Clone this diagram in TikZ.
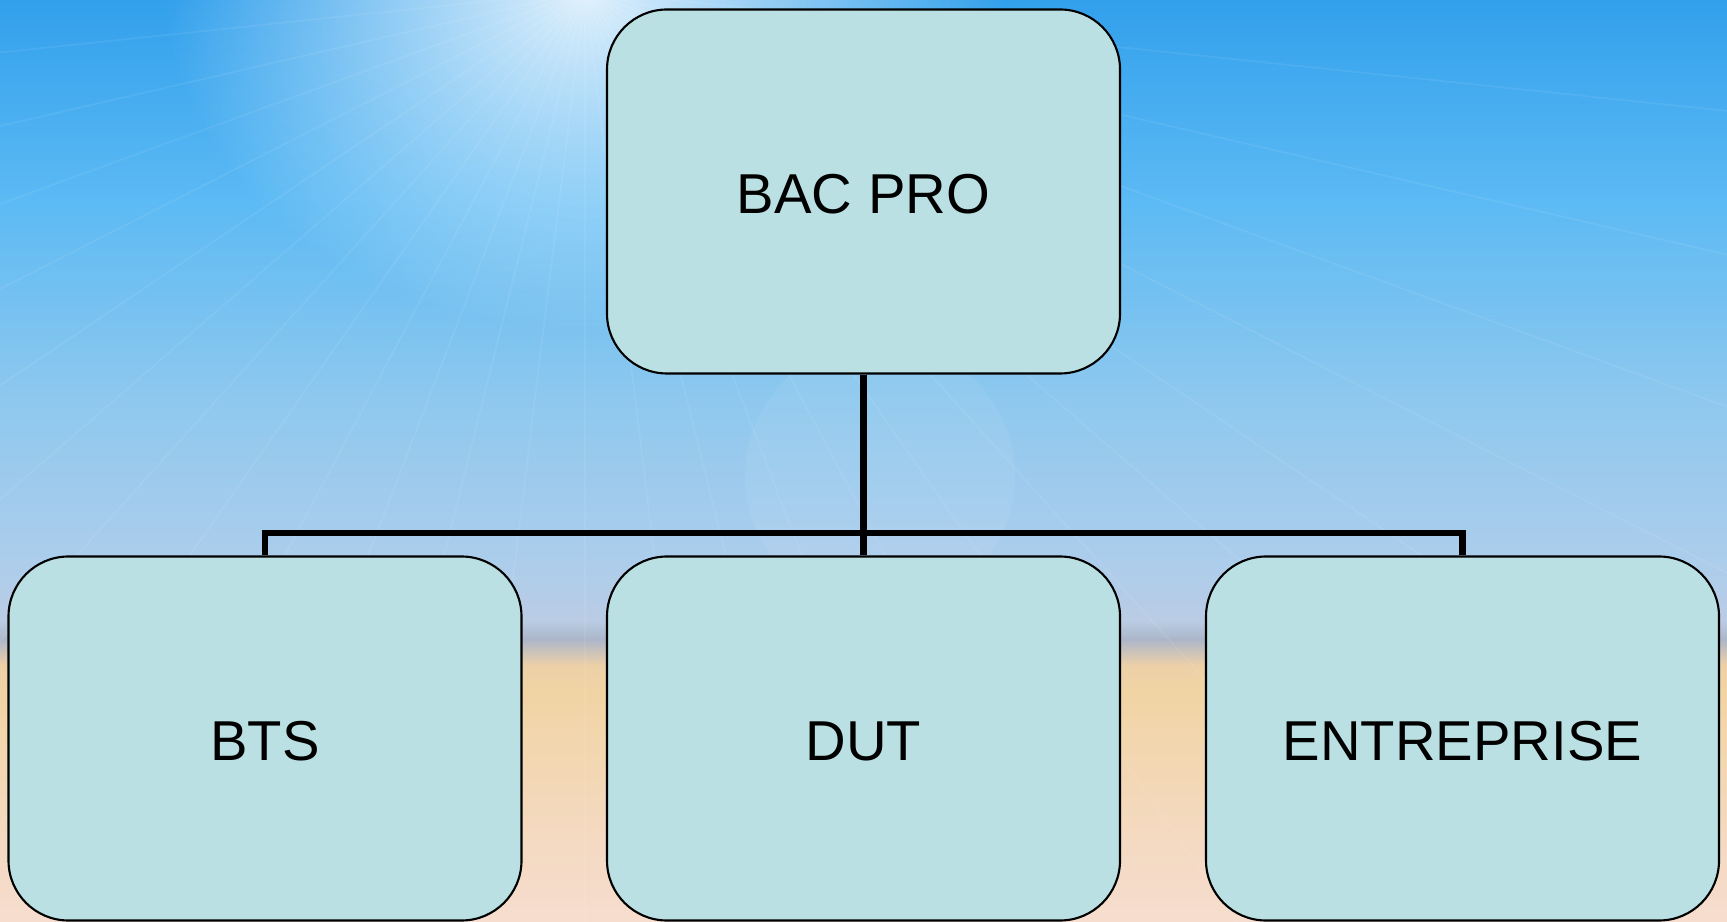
\documentclass[tikz,border=0pt]{standalone}
\usepackage{fontspec}
\setmainfont{Liberation Sans}
\usetikzlibrary{fadings}

\definecolor{boxfill}{RGB}{186,224,227}
\definecolor{deepsky}{RGB}{50,160,236}
\definecolor{midsky}{RGB}{92,186,244}
\definecolor{lowsky}{RGB}{142,200,238}
\definecolor{hazesky}{RGB}{172,205,236}
\definecolor{hazeblue}{RGB}{186,204,228}
\definecolor{horizon}{RGB}{172,182,202}
\definecolor{sandtop}{RGB}{236,208,168}
\definecolor{sand}{RGB}{241,212,164}
\definecolor{sandlow}{RGB}{244,218,194}
\definecolor{peach}{RGB}{246,221,206}

% sky down to the beach, fitted into the middle 50bp of the shading
\pgfdeclareverticalshading{skyline}{100bp}{color(0bp)=(peach); color(25bp)=(peach);
  color(29.3bp)=(sandlow); color(37.5bp)=(sand); color(38.9bp)=(sandtop);
  color(40.3bp)=(horizon); color(41.3bp)=(hazeblue); color(44.6bp)=(hazesky);
  color(53.3bp)=(lowsky); color(64.1bp)=(midsky); color(75bp)=(deepsky); color(100bp)=(deepsky)}

\tikzfading[name=sunglow, inner color=transparent!0, outer color=transparent!100]

\begin{document}
\begin{tikzpicture}[
    stage/.style={shape=rectangle, rounded corners=0.6cm, draw=black, line width=0.6pt,
      fill=boxfill, minimum width=5.13cm, minimum height=3.64cm, text height=0.45cm,
      font=\fontsize{16}{18}\selectfont},
    branch/.style={draw=black, line width=1.9pt},
    ray/.style={draw=white, line width=0.5pt, opacity=0.07}]

    % background
    \shade[shading=skyline] (0,0) rectangle (17.27,9.21);
    \useasboundingbox (0,0) rectangle (17.27,9.21);
    \coordinate (sun) at (5.85,9.3);
    \foreach \a in {186,193,...,356}
        \draw[ray] (sun) -- ++(\a:22);
    \fill[white, path fading=sunglow, opacity=0.85] (sun) ellipse (4.2 and 3.4);
    \fill[white, opacity=0.06] (8.8,4.45) circle (1.35);

    \node[stage] (bac) at (8.635,7.295) {BAC PRO};

    \node[stage] (bts) at (2.65,1.825) {BTS};
    \node[stage] (dut) at (8.635,1.825) {DUT};
    \node[stage] (ent) at (14.625,1.825) {ENTREPRISE};

    \coordinate (split) at (8.635,3.88);

    \draw[branch] (bac.south) -- (split);
    \draw[branch] (split) -| (bts.north);
    \draw[branch] (split) -- (dut.north);
    \draw[branch] (split) -| (ent.north);
\end{tikzpicture}
\end{document}
